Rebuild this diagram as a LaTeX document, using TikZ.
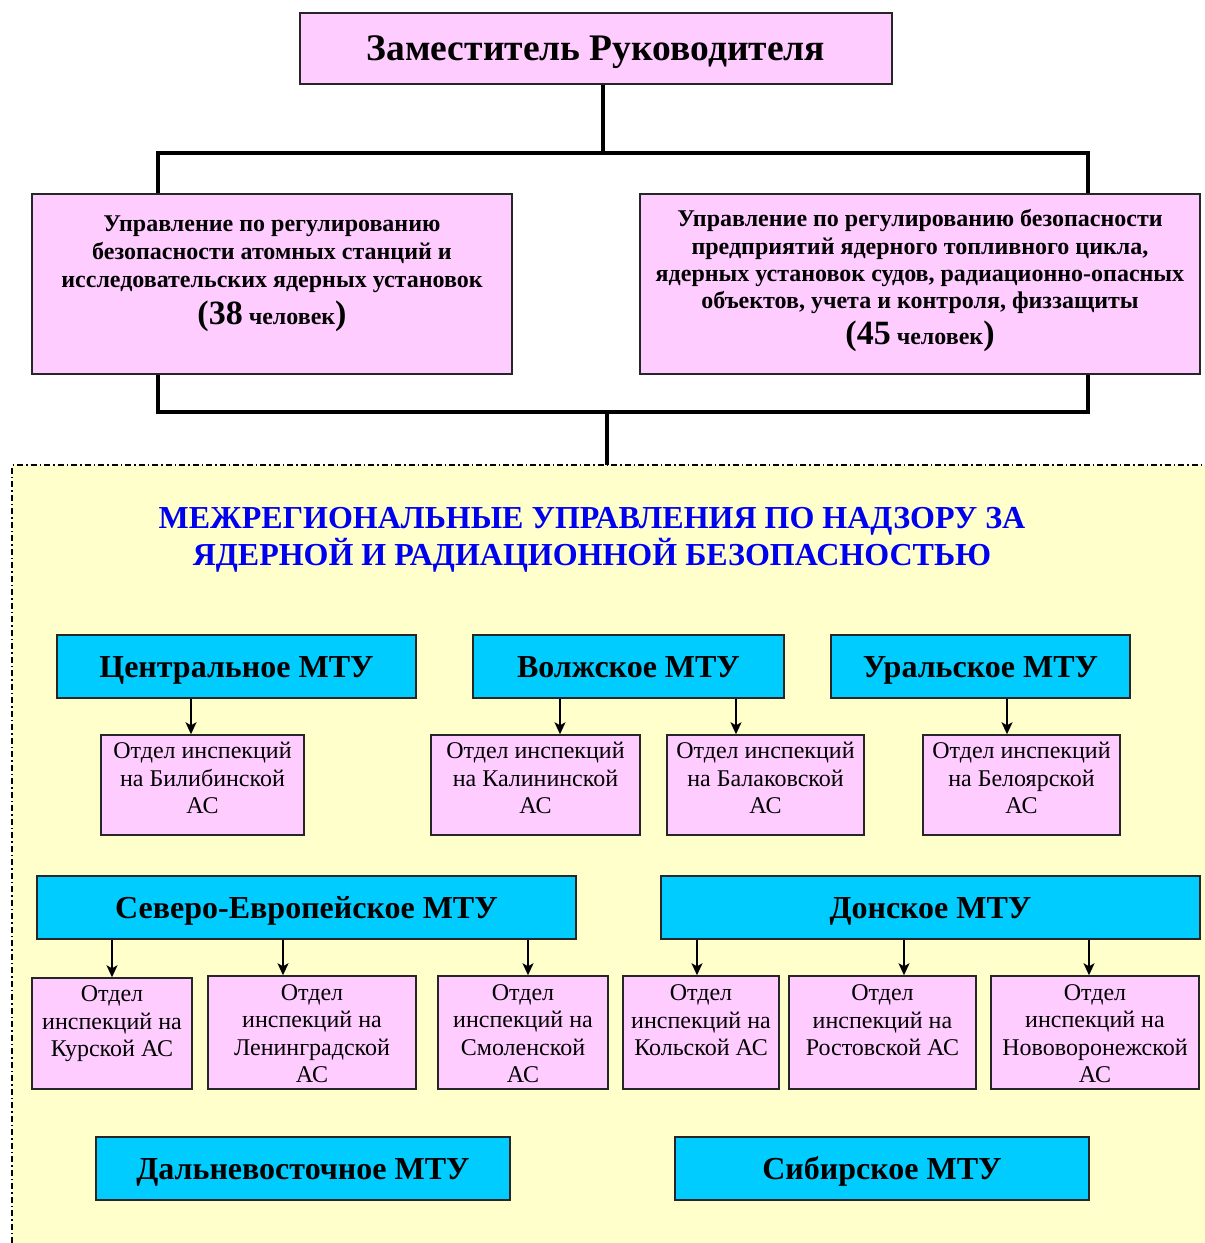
\documentclass[tikz,border=0pt]{standalone}
\usepackage{fontspec}
\setmainfont{Liberation Serif}
\usetikzlibrary{arrows.meta}
\definecolor{pinkf}{HTML}{FFCCFF}
\definecolor{cyanf}{HTML}{00CCFF}
\definecolor{yellowf}{HTML}{FFFFCC}
\definecolor{titleblue}{HTML}{0000F0}
\tikzset{
  pinkbox/.style={draw=black!85, line width=1.5pt, fill=pinkf, inner sep=0pt},
  mtubox/.style={draw=black!85, line width=1.5pt, fill=cyanf, inner sep=0pt, text height=21.2pt, text depth=0pt, font=\fontsize{32}{36}\selectfont\bfseries},
  deptbox/.style={pinkbox, align=center, font=\fontsize{24}{27.5}\selectfont},
  conn/.style={line width=4pt, line join=miter, black},
  arr/.style={line width=1.5pt, -{Stealth[length=12pt,width=11pt,inset=3pt]}},
}
\begin{document}
\begin{tikzpicture}[x=1pt,y=-1pt]
\useasboundingbox (0,0) rectangle (1205,1243);
% yellow region
\fill[yellowf] (12,465) rectangle (1205,1243);
\draw[line width=2pt, dash pattern=on 6pt off 3pt on 1.5pt off 3pt] (12,1243) -- (12,465) -- (1205,465);

% top
\node[pinkbox, minimum width=592, minimum height=71, text height=24.8pt, text depth=0pt, font=\fontsize{37.5}{40}\selectfont\bfseries] (top) at (596,48.5) {Заместитель Руководителя};

% two directorates
\node[pinkbox, minimum width=480, minimum height=180] (b1) at (272,284) {};
\node[align=center, anchor=north, inner sep=0pt, font=\fontsize{24}{28}\selectfont\bfseries] (b1t) at (272,215.5)
 {Управление по регулированию\\безопасности атомных станций и\\исследовательских ядерных установок\\[7pt]{\fontsize{34}{28}\selectfont(38} человек{\fontsize{34}{28}\selectfont)}};
\node[pinkbox, minimum width=560, minimum height=180] (b2) at (920,284) {};
\node[align=center, anchor=north, inner sep=0pt, font=\fontsize{24}{27.3}\selectfont\bfseries] (b2t) at (920,209.5)
 {Управление по регулированию безопасности\\предприятий ядерного топливного цикла,\\ядерных установок судов, радиационно-опасных\\объектов, учета и контроля, физзащиты\\[6pt]{\fontsize{34}{28}\selectfont(45} человек{\fontsize{34}{28}\selectfont)}};

% connectors
\coordinate (tx) at (603,153);
\coordinate (hl) at (158,153);
\coordinate (hr) at (1088,153);
\coordinate (ll) at (158,412);
\coordinate (lr) at (1088,412);
\coordinate (lm) at (607,412);
\coordinate (dm) at (607,465);
\draw[conn] (top.south -| tx) -- (tx);
\draw[conn] (b1.north -| hl) -- (hl) -- (hr) -- (b2.north -| hr);
\draw[conn] (b1.south -| ll) -- (ll) -- (lr) -- (b2.south -| lr);
\draw[conn] (lm) -- (dm);

% title
\node[align=center, text=titleblue, font=\fontsize{32}{37}\selectfont\bfseries] (ttl) at (592,540)
 {МЕЖРЕГИОНАЛЬНЫЕ УПРАВЛЕНИЯ ПО НАДЗОРУ ЗА\\ЯДЕРНОЙ И РАДИАЦИОННОЙ БЕЗОПАСНОСТЬЮ};

% MTU row 1
\node[mtubox, minimum width=359, minimum height=63] (m1) at (236.5,666.5) {Центральное МТУ};
\node[mtubox, minimum width=311, minimum height=63] (m2) at (628.5,666.5) {Волжское МТУ};
\node[mtubox, minimum width=299, minimum height=63] (m3) at (980.5,666.5) {Уральское МТУ};

\node[deptbox, minimum width=203, minimum height=100] (d1) at (202.5,785) {Отдел инспекций\\на Билибинской\\АС\\[-14pt]};
\node[deptbox, minimum width=209, minimum height=100] (d2) at (535.5,785) {Отдел инспекций\\на Калининской\\АС\\[-14pt]};
\node[deptbox, minimum width=197, minimum height=100] (d3) at (765.5,785) {Отдел инспекций\\на Балаковской\\АС\\[-14pt]};
\node[deptbox, minimum width=197, minimum height=100] (d4) at (1021.5,785) {Отдел инспекций\\на Белоярской\\АС\\[-14pt]};

\coordinate (a1) at (191,0);
\coordinate (a2) at (560,0);
\coordinate (a3) at (736,0);
\coordinate (a4) at (1007,0);
\draw[arr] (m1.south -| a1) -- (d1.north -| a1);
\draw[arr] (m2.south -| a2) -- (d2.north -| a2);
\draw[arr] (m2.south -| a3) -- (d3.north -| a3);
\draw[arr] (m3.south -| a4) -- (d4.north -| a4);

% MTU row 2
\node[mtubox, minimum width=539, minimum height=63] (m4) at (306.5,907.5) {Северо-Европейское МТУ};
\node[mtubox, minimum width=539, minimum height=63] (m5) at (930.5,907.5) {Донское МТУ};

\node[deptbox, minimum width=160, minimum height=111] (e1) at (112,1033.5) {\rule{0pt}{18.5pt}Отдел\\инспекций на\\Курской АС\\\mbox{}};
\node[deptbox, minimum width=208, minimum height=113] (e2) at (312,1032.5) {\rule{0pt}{18.5pt}Отдел\\инспекций на\\Ленинградской\\АС};
\node[deptbox, minimum width=170, minimum height=113] (e3) at (523,1032.5) {\rule{0pt}{18.5pt}Отдел\\инспекций на\\Смоленской\\АС};
\node[deptbox, minimum width=156, minimum height=113] (e4) at (701,1032.5) {\rule{0pt}{18.5pt}Отдел\\инспекций на\\Кольской АС\\\mbox{}};
\node[deptbox, minimum width=187, minimum height=113] (e5) at (882.5,1032.5) {\rule{0pt}{18.5pt}Отдел\\инспекций на\\Ростовской АС\\\mbox{}};
\node[deptbox, minimum width=208, minimum height=113] (e6) at (1095,1032.5) {\rule{0pt}{18.5pt}Отдел\\инспекций на\\Нововоронежской\\АС};

\coordinate (c1) at (112,0);
\coordinate (c2) at (283,0);
\coordinate (c3) at (528,0);
\coordinate (c4) at (697,0);
\coordinate (c5) at (904,0);
\coordinate (c6) at (1089,0);
\draw[arr] (m4.south -| c1) -- (e1.north -| c1);
\draw[arr] (m4.south -| c2) -- (e2.north -| c2);
\draw[arr] (m4.south -| c3) -- (e3.north -| c3);
\draw[arr] (m5.south -| c4) -- (e4.north -| c4);
\draw[arr] (m5.south -| c5) -- (e5.north -| c5);
\draw[arr] (m5.south -| c6) -- (e6.north -| c6);

% MTU row 3
\node[mtubox, minimum width=414, minimum height=63] (m6) at (303,1168.5) {Дальневосточное МТУ};
\node[mtubox, minimum width=414, minimum height=63] (m7) at (882,1168.5) {Сибирское МТУ};
\end{tikzpicture}
\end{document}
